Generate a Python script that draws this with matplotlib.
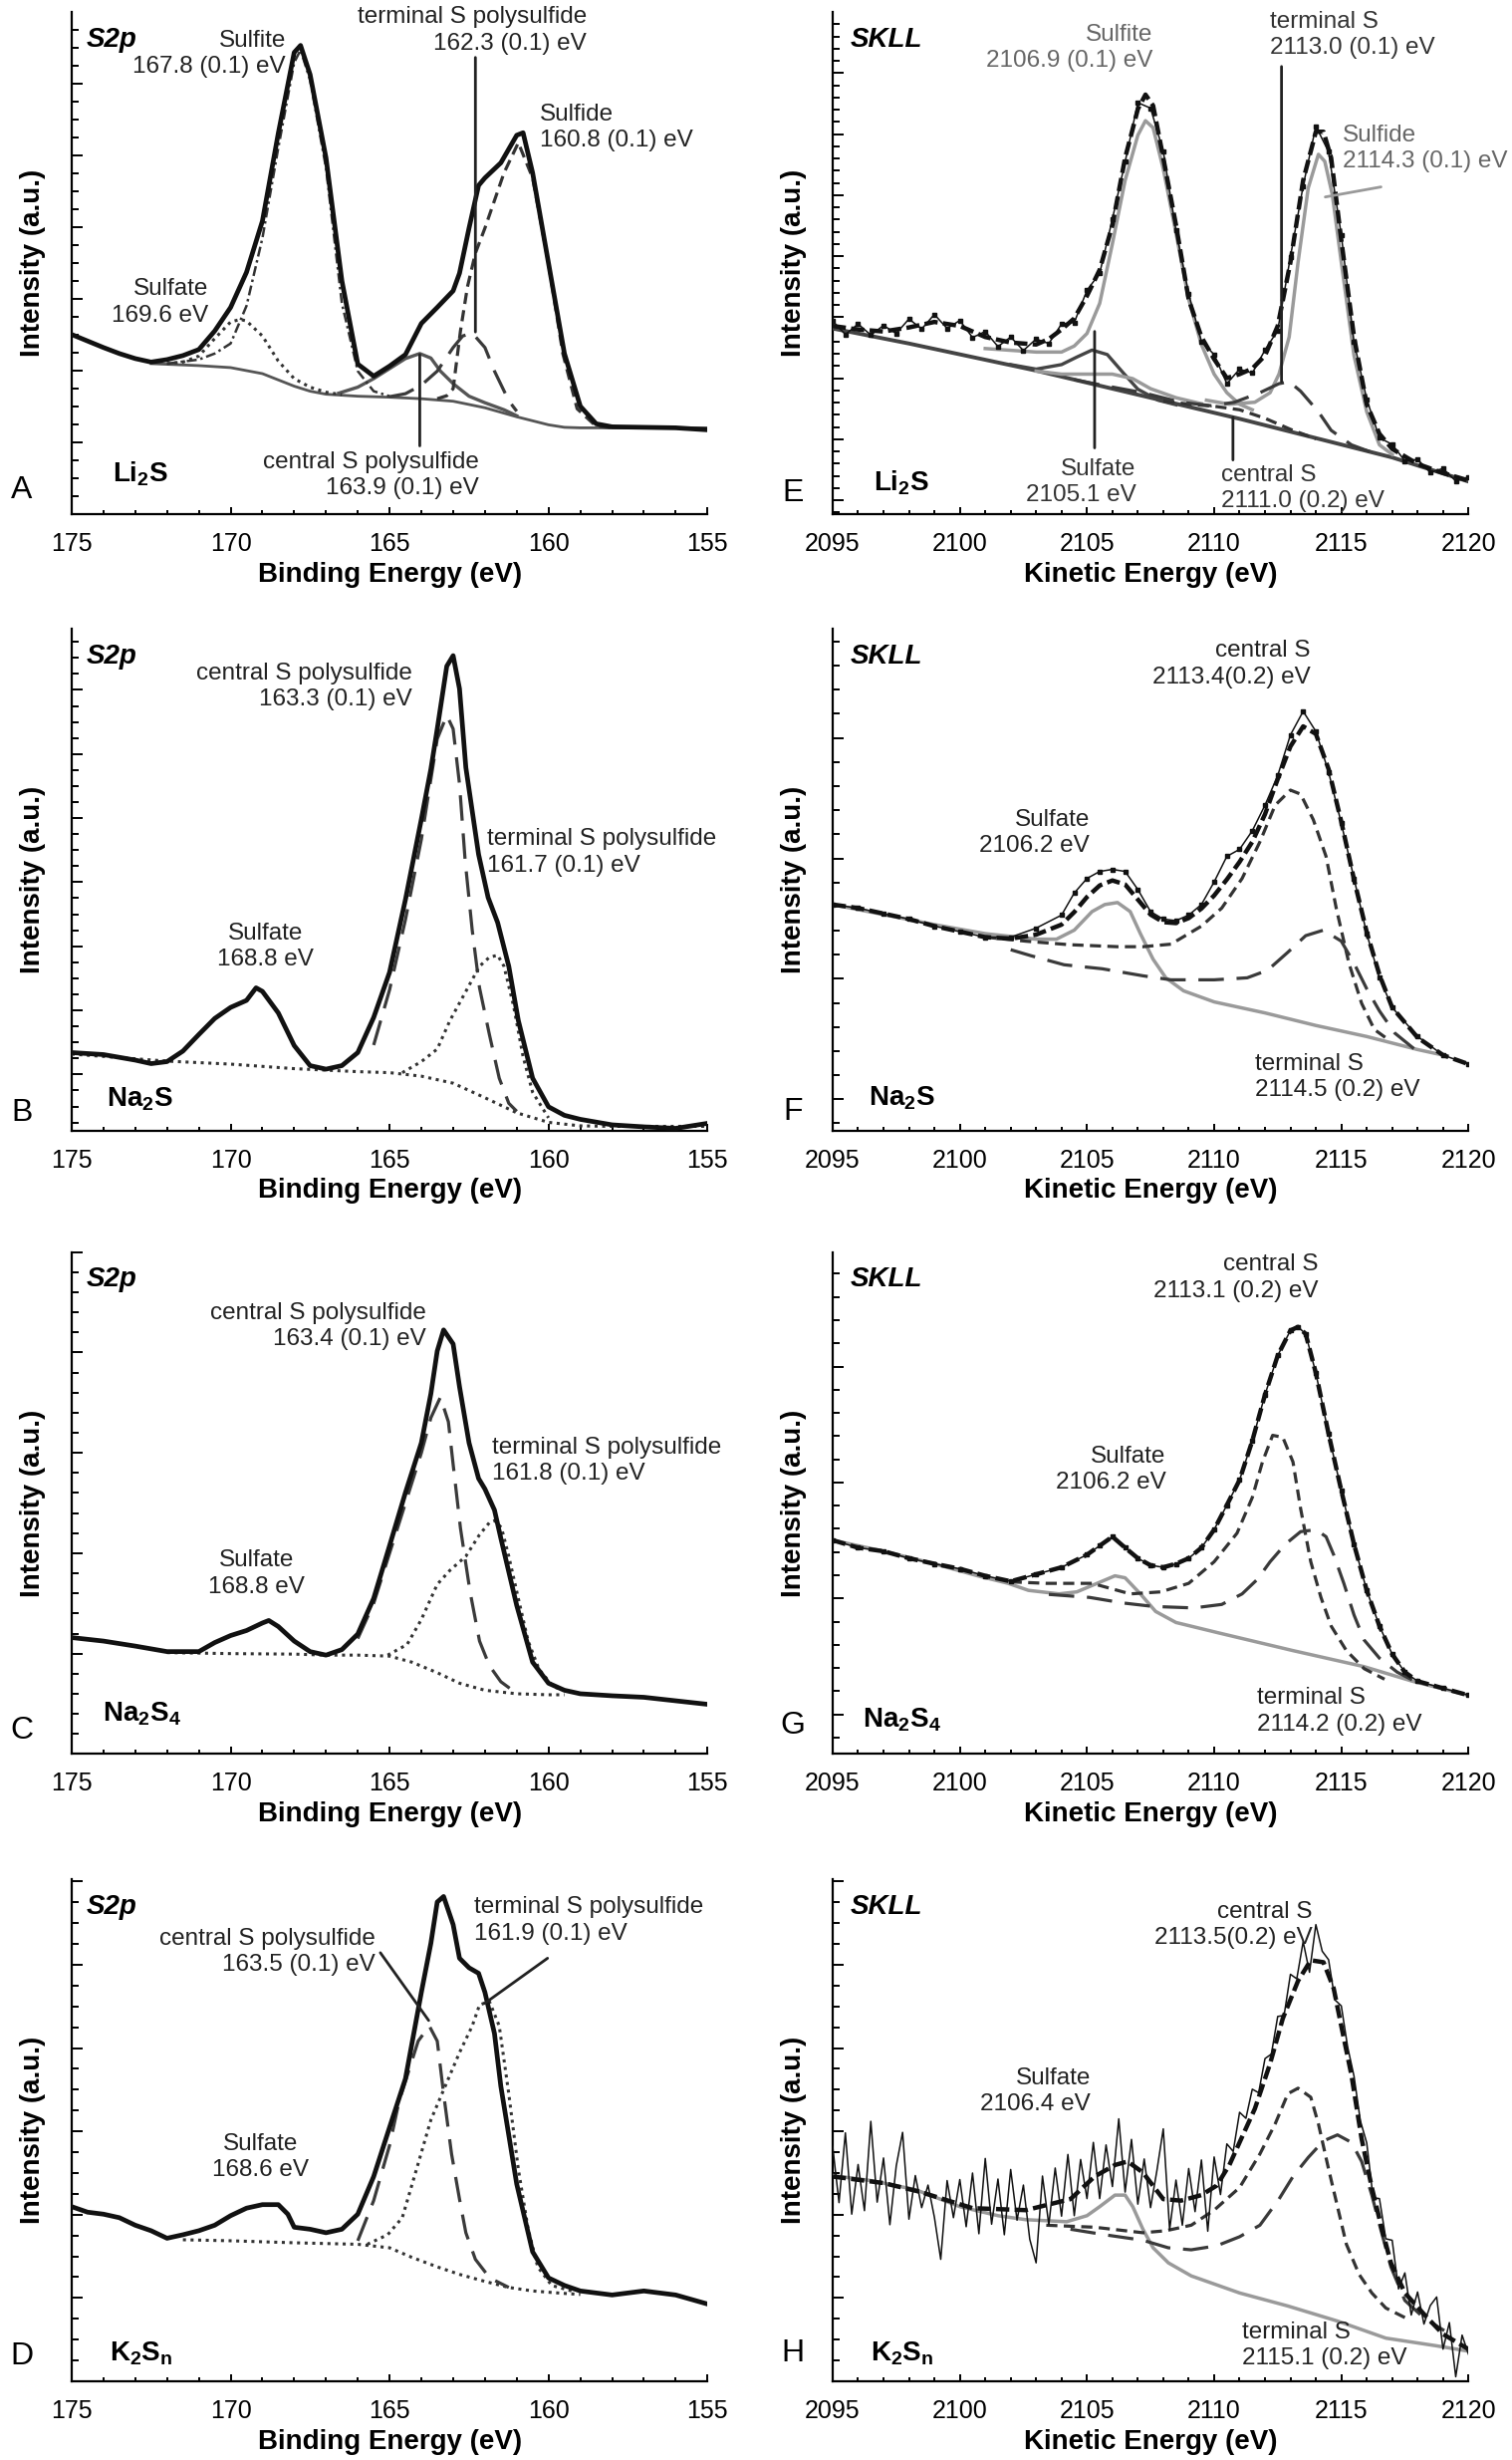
import numpy as np
import matplotlib
matplotlib.use('Agg')
import matplotlib.pyplot as plt
from matplotlib.ticker import FixedLocator, MultipleLocator

plt.rcParams['font.family'] = ['Liberation Sans', 'DejaVu Sans']
plt.rcParams['mathtext.fontset'] = 'custom'
plt.rcParams['mathtext.rm'] = 'Liberation Sans'
plt.rcParams['mathtext.bf'] = 'Liberation Sans:bold'
plt.rcParams['mathtext.it'] = 'Liberation Sans:italic'

# ---------------- A : Li2S, S2p (binding energy) ----------------
A_be = [175, 174.5, 174, 173.5, 173, 172.5, 172, 171.5, 171, 170.5, 170, 169.5, 169, 168.5, 168, 167.8,
        167.5, 167, 166.5, 166, 165.5, 165, 164.5, 164, 163.5, 163, 162.8, 162.5, 162.2, 162, 161.5, 161,
        160.8, 160.5, 160, 159.5, 159, 158.5, 158, 157, 156, 155]
A_data = [35.8, 34.5, 33.2, 32.0, 31.0, 30.3, 30.8, 31.6, 32.8, 36.5, 41.2, 48.2, 58.4, 75.9, 92.0, 93.4,
          87.6, 71.0, 46.5, 29.9, 27.5, 29.5, 31.8, 38.0, 41.2, 44.5, 48.0, 57.0, 65.5, 67.0, 70.0, 75.5,
          76.0, 68.0, 50.0, 32.0, 21.5, 18.0, 17.4, 17.3, 17.2, 16.8]
A_bg_be = [172.5, 171, 170, 169, 168, 167.5, 167, 166, 165, 164, 163, 162, 161, 160, 159.5, 159, 157, 155]
A_bg = [30.0, 29.6, 29.2, 28.0, 25.5, 24.5, 23.9, 23.5, 23.3, 23.0, 22.5, 21.2, 19.4, 17.8, 17.3, 17.2, 17.2, 17.2]
A_sulfate_be = [172, 171.5, 171, 170.5, 170, 169.7, 169.5, 169, 168.5, 168, 167.5, 167, 166.5]
A_sulfate = [30.0, 30.3, 31.5, 35.0, 38.3, 38.8, 38.5, 35.5, 30.5, 27.0, 25.3, 24.3, 23.8]
A_sulfite_be = [172, 171, 170.5, 170, 169.5, 169, 168.5, 168, 167.8, 167.5, 167, 166.5, 166, 165.5, 165]
A_sulfite = [30.0, 30.8, 32.0, 34.0, 41.5, 55.0, 73.0, 90.0, 92.5, 86.5, 69.0, 42.0, 28.5, 24.5, 23.5]
A_central_be = [166.6, 166, 165.5, 165, 164.5, 164.05, 163.7, 163.4, 163, 162.5, 162, 161.4, 161]
A_central = [24.1, 25.3, 27.0, 29.0, 31.0, 32.0, 31.1, 28.5, 26.0, 23.5, 22.2, 20.8, 19.6]
A_terminal_be = [165, 164.5, 164, 163.5, 163, 162.7, 162.4, 162, 161.7, 161.25, 161]
A_terminal = [23.4, 24.0, 25.7, 28.5, 33.2, 35.5, 36.1, 33.2, 28.5, 22.6, 20.5]
A_sulfide_be = [163.5, 163.2, 163, 162.77, 162.55, 162.3, 162, 161.4, 160.95, 160.5, 160, 159.55, 159.1, 158.5, 158]
A_sulfide = [23.0, 23.6, 25.0, 36.5, 45.3, 52.0, 57.0, 68.0, 74.0, 67.0, 50.0, 32.0, 21.0, 17.5, 17.2]

# ---------------- B : Na2S, S2p ----------------
B_be = [175, 174, 173, 172.5, 172, 171.5, 171, 170.5, 170, 169.5, 169.2, 169, 168.5, 168, 167.5, 167, 166.5,
        166, 165.5, 165, 164.5, 164, 163.7, 163.5, 163.2, 163, 162.8, 162.6, 162.2, 161.9, 161.6, 161.25,
        160.95, 160.5, 160, 159.5, 159, 158, 157, 156, 155]
B_data = [15.5, 15.1, 14.0, 13.3, 13.7, 15.8, 19.1, 22.3, 24.5, 25.9, 28.4, 27.7, 23.4, 16.9, 12.9, 12.2, 12.9,
          15.5, 22.5, 31.5, 46.0, 62.0, 72.0, 80.0, 92.5, 94.6, 88.0, 72.3, 55.0, 46.4, 41.4, 32.7,
          21.9, 10.4, 4.7, 3.0, 2.2, 1.1, 0.7, 0.4, 1.4]
B_bg_be = [175, 172, 170, 168, 166, 165, 164, 163, 162, 161, 160, 159, 158, 155]
B_bg = [15.2, 13.8, 13.2, 12.3, 11.7, 11.5, 10.8, 9.4, 6.5, 3.5, 1.6, 0.9, 0.8, 0.8]
B_central_be = [165.5, 165, 164.5, 164, 163.7, 163.5, 163.2, 163, 162.8, 162.62, 162.4, 162.17, 161.86, 161.55, 161.25, 161]
B_central = [17.0, 28.0, 42.0, 58.0, 70.0, 78.0, 82.7, 80.0, 69.0, 53.6, 39.9, 28.4, 19.1, 10.4, 5.4, 3.8]
B_terminal_be = [164.6, 164, 163.5, 163.1, 162.6, 162.17, 161.86, 161.6, 161.4, 161.1, 160.8, 160.5, 160]
B_terminal = [11.5, 13.7, 16.2, 21.9, 27.7, 32.7, 34.5, 34.9, 32.7, 24.8, 14.7, 7.6, 2.5]

# ---------------- C : Na2S4, S2p ----------------
C_be = [175, 174, 173, 172, 171, 170.5, 170, 169.5, 169, 168.8, 168.5, 168, 167.5, 167, 166.5, 166, 165.5,
        165, 164.5, 164, 163.7, 163.5, 163.3, 163, 162.8, 162.5, 162.2, 162, 161.7, 161.5, 161, 160.5, 160,
        159.5, 159, 158, 157, 156, 155]
C_data = [23.2, 22.5, 21.5, 20.4, 20.4, 22.2, 23.6, 24.6, 26.1, 26.6, 25.4, 22.5, 20.4, 19.7, 20.8, 23.9, 31.0,
          41.5, 52.1, 62.0, 71.8, 80.3, 84.5, 81.7, 73.2, 62.0, 54.9, 52.8, 48.6, 43.0, 29.6, 18.3, 14.1,
          12.7, 12.0, 11.6, 11.3, 10.6, 9.9]
C_bg_be = [172, 170, 168, 167, 166, 165, 164.3, 163.5, 162.8, 162, 161, 160, 159.5]
C_bg = [20.2, 20.0, 19.9, 19.7, 19.7, 19.5, 18.3, 16.2, 14.1, 12.7, 12.0, 11.8, 11.8]
C_central_be = [166, 165.5, 165, 164.5, 164, 163.7, 163.4, 163.15, 163, 162.77, 162.47, 162.17, 161.86, 161.5, 161.2]
C_central = [23.0, 30.0, 40.0, 50.0, 60.0, 67.0, 71.1, 66.2, 57.7, 45.0, 32.4, 22.5, 17.6, 14.4, 13.0]
C_terminal_be = [165.06, 164.45, 164, 163.5, 163.1, 162.6, 162.17, 161.86, 161.7, 161.48, 161.25, 160.95,
                 160.64, 160.3, 159.85, 159.27]
C_terminal = [19.7, 21.8, 26.8, 33.8, 36.6, 39.4, 43.7, 46.1, 46.5, 45.1, 39.4, 31.0, 22.5, 16.9, 13.4, 12.3]

# ---------------- D : K2Sn, S2p ----------------
D_be = [175, 174.5, 174, 173.5, 173, 172.5, 172, 171.5, 171, 170.5, 170, 169.5, 169, 168.5, 168.2, 168, 167.5,
        167, 166.5, 166, 165.5, 165, 164.5, 164, 163.7, 163.5, 163.3, 163, 162.8, 162.5, 162.2, 162, 161.7,
        161.5, 161, 160.5, 160, 159.5, 159, 158, 157, 156, 155]
D_data = [34.8, 33.7, 33.3, 32.6, 31.1, 30.0, 28.5, 29.2, 30.0, 31.1, 33.0, 34.5, 35.2, 35.2, 33.3, 30.7, 30.3,
          29.6, 30.3, 33.3, 40.8, 50.6, 60.3, 77.5, 87.3, 95.5, 96.6, 91.0, 84.3, 82.4, 81.3, 77.5, 69.3,
          58.8, 39.3, 25.8, 20.6, 19.1, 18.0, 17.2, 18.0, 17.2, 15.4]
D_bg_be = [171.5, 170, 168, 166, 165, 164.3, 163.5, 162.8, 162, 161.25, 160.5, 159.7, 159]
D_bg = [28.2, 28.0, 27.6, 27.3, 26.6, 24.7, 22.8, 21.3, 19.9, 18.7, 18.0, 17.6, 17.3]
D_central_be = [166, 165.5, 165, 164.7, 164.4, 164.1, 163.75, 163.5, 163.3, 163.05, 162.8, 162.6, 162.3, 161.85, 161.25]
D_central = [28.0, 36.0, 47.0, 55.8, 61.8, 67.8, 70.8, 67.8, 57.3, 45.3, 36.3, 29.6, 24.3, 20.6, 18.7]
D_terminal_be = [165.7, 165.06, 164.6, 164.15, 163.7, 163.25, 162.8, 162.4, 162.17, 161.86, 161.55, 161.25,
                 160.95, 160.64, 160.34, 159.9, 159.27]
D_terminal = [27.3, 29.2, 32.6, 42.3, 52.1, 58.8, 65.5, 70.8, 75.0, 75.7, 70.8, 57.3, 42.3, 30.3, 22.8, 19.1, 18.0]

# ---------------- E : Li2S, SKLL (kinetic energy) ----------------
E_ke = [2095, 2096, 2097, 2098, 2099, 2100, 2101, 2102, 2103, 2103.5, 2104, 2104.5, 2105, 2105.5, 2106, 2106.5,
        2107, 2107.3, 2107.6, 2108, 2108.5, 2109, 2109.5, 2110, 2110.5, 2111, 2111.5, 2112, 2112.5, 2113,
        2113.5, 2114, 2114.3, 2114.6, 2115, 2115.5, 2116, 2116.5, 2117, 2118, 2119, 2120]
E_fit = [37.5, 36.8, 36.4, 37.2, 38.3, 37.5, 35.3, 34.2, 33.8, 34.9, 36.8, 39.0, 43.5, 48.7, 57.6, 71.0,
         80.7, 83.6, 81.4, 71.0, 57.6, 42.8, 35.3, 30.9, 27.1, 27.9, 29.0, 31.6, 37.5, 50.2,
         66.5, 76.2, 76.2, 71.0, 54.6, 35.3, 21.9, 16.0, 13.0, 10.0, 8.2, 6.7]
E_data = [38.5, 35.8, 37.9, 35.7, 37.6, 36.0, 38.9, 36.9, 39.8, 37.0, 38.6, 35.2, 36.4, 33.4, 35.3, 32.6,
          34.9, 34.0, 37.9, 38.2, 44.6, 48.0, 58.8, 70.2, 82.0, 80.9, 72.3, 56.5, 43.9, 34.4, 31.8, 26.0,
          28.9, 28.1, 32.7, 36.6, 51.3, 65.4, 77.3, 72.2, 55.6, 34.3, 22.9, 15.2, 13.9, 10.6, 10.9, 8.3,
          9.1, 6.6, 7.4]
E_bg_ke = [2095, 2098, 2103, 2111, 2117, 2120]
E_bg = [37.0, 34.0, 28.6, 19.0, 11.3, 6.5]
E_sulfate_ke = [2102, 2103, 2104, 2104.6, 2105.2, 2105.8, 2106.4, 2107, 2107.8, 2108.5]
E_sulfate = [29.8, 28.9, 29.8, 31.3, 32.7, 31.8, 28.3, 24.9, 22.7, 21.8]
E_sulfite_ke = [2101, 2103, 2104, 2104.5, 2105, 2105.5, 2106, 2106.5, 2107, 2107.3, 2107.6, 2108, 2108.5,
                2109, 2109.5, 2110, 2110.5, 2111, 2111.5]
E_sulfite = [33.0, 32.3, 32.3, 33.5, 36.0, 42.0, 53.9, 66.5, 75.5, 78.4, 77.0, 68.8, 56.0, 42.8, 33.8, 27.9,
             24.2, 21.9, 20.8]
E_minor_ke = [2103, 2104, 2105, 2106, 2106.8, 2107.5, 2108.5, 2109.5]
E_minor = [28.5, 27.9, 27.9, 27.9, 27.0, 25.0, 23.2, 22.0]
E_sulfide_ke = [2109.7, 2110.6, 2111.6, 2112.2, 2112.55, 2112.95, 2113.3, 2113.7, 2114.1, 2114.35, 2114.65,
                2115, 2115.5, 2116, 2116.5, 2117]
E_sulfide = [22.7, 21.9, 22.3, 24.2, 27.9, 35.3, 50.2, 65.0, 71.7, 70.3, 63.6, 50.2, 31.6, 20.4, 13.8, 11.9]
E_terminal_ke = [2104.5, 2105.7, 2107.2, 2108.7, 2109.9, 2110.8, 2111.8, 2112.55, 2112.95, 2113.4, 2114.1,
                 2114.6, 2115.4, 2116.2]
E_terminal = [26.8, 25.6, 24.2, 22.3, 21.6, 22.3, 24.2, 26.0, 26.4, 24.5, 20.4, 16.7, 13.8, 12.3]
E_central_ke = [2108, 2109, 2110, 2111, 2112, 2113, 2114]
E_central = [22.6, 21.9, 21.5, 20.8, 19.1, 16.9, 15.0]

# ---------------- F : Na2S, SKLL ----------------
F_ke = [2095, 2096, 2097, 2098, 2099, 2100, 2101, 2102, 2103, 2104, 2104.5, 2105, 2105.5, 2106, 2106.5, 2107,
        2107.5, 2108, 2108.5, 2109, 2109.5, 2110, 2110.5, 2111, 2111.5, 2112, 2112.5, 2113, 2113.5, 2114,
        2114.5, 2115, 2115.5, 2116, 2116.5, 2117, 2118, 2119, 2120]
F_data = [45.0, 44.3, 43.2, 42.1, 40.7, 39.6, 38.5, 38.5, 40.3, 42.9, 47.3, 50.2, 51.6, 52.0, 51.6, 48.0,
          43.6, 42.1, 41.8, 42.9, 45.0, 49.5, 54.6, 56.0, 59.7, 64.8, 70.7, 78.8, 83.5, 79.5,
          71.4, 61.2, 50.2, 39.2, 30.4, 24.5, 18.7, 15.0, 13.2]
F_fit = [45.0, 44.3, 43.2, 42.1, 40.7, 39.6, 38.5, 38.2, 39.0, 41.0, 43.5, 46.5, 48.8, 49.8, 49.0, 46.0,
         43.0, 41.5, 41.3, 42.3, 44.2, 46.8, 50.0, 53.5, 57.5, 63.0, 70.0, 76.5, 80.5, 79.0,
         72.0, 61.5, 50.0, 39.5, 31.0, 24.5, 18.5, 15.0, 13.2]
F_gray_ke = [2095, 2097, 2099, 2101, 2103, 2103.8, 2104.5, 2105.2, 2105.7, 2106.2, 2106.7, 2107.1, 2107.6,
             2108.1, 2108.8, 2110, 2112, 2114, 2116, 2118, 2119]
F_gray = [45.0, 43.0, 41.0, 39.2, 38.1, 38.1, 39.9, 43.6, 45.0, 45.4, 43.6, 39.2, 34.1, 30.4, 27.8, 25.6,
          23.4, 20.9, 18.7, 16.1, 15.0]
F_central_ke = [2101, 2102.6, 2104.3, 2106.2, 2107.2, 2108.3, 2109.5, 2110.3, 2111.1, 2111.8, 2112.4, 2113,
                2113.4, 2113.9, 2114.4, 2114.8, 2115.3, 2115.8, 2116.3, 2116.9]
F_central = [38.5, 37.7, 37.0, 36.6, 36.6, 37.1, 40.7, 44.3, 50.2, 57.5, 64.8, 67.8, 67.0, 61.9, 54.6, 44.3,
             33.3, 25.3, 20.1, 17.9]
F_terminal_ke = [2102, 2102.8, 2104.1, 2105.6, 2107.2, 2108.3, 2110, 2111.3, 2112.1, 2112.9, 2113.6, 2114.3,
                 2115, 2115.5, 2116, 2116.5, 2117.1, 2117.9]
F_terminal = [36.0, 34.8, 33.0, 32.2, 30.8, 30.0, 30.0, 30.4, 31.9, 35.5, 38.8, 39.9, 37.7, 33.3, 28.2,
              23.8, 19.4, 16.1]

# ---------------- G : Na2S4, SKLL ----------------
G_ke = [2095, 2096, 2097, 2098, 2099, 2100, 2101, 2102, 2103, 2104, 2105, 2105.5, 2106, 2106.5, 2107, 2107.5,
        2108, 2108.5, 2109, 2109.5, 2110, 2110.5, 2111, 2111.5, 2112, 2112.5, 2113, 2113.3, 2113.6, 2114,
        2114.5, 2115, 2115.5, 2116, 2116.5, 2117, 2117.5, 2118, 2119, 2120]
G_data = [42.6, 41.1, 40.4, 39.0, 37.9, 36.9, 35.5, 34.4, 35.8, 37.2, 39.7, 41.5, 43.3, 41.1, 39.0, 37.6,
          37.2, 37.9, 39.0, 41.1, 44.7, 49.6, 54.6, 62.4, 71.6, 79.4, 84.4, 85.1, 83.7, 75.9,
          63.8, 52.5, 41.8, 32.6, 25.5, 19.9, 16.3, 14.5, 13.1, 11.7]
G_gray_ke = [2095, 2097, 2099, 2100.7, 2101.9, 2102.7, 2103.9, 2104.6, 2105.4, 2106.1, 2106.5, 2107.1, 2107.7,
             2108.5, 2110.2, 2113.1, 2115.9, 2117.8, 2120]
G_gray = [42.6, 40.4, 37.9, 35.5, 34.0, 32.6, 31.9, 32.3, 34.0, 35.5, 35.1, 31.9, 28.4, 26.2, 24.1, 20.6,
          17.4, 14.5, 11.7]
G_central_ke = [2102, 2103.4, 2105.2, 2106.7, 2107.9, 2109, 2110, 2110.9, 2111.5, 2111.9, 2112.3, 2112.7,
                2113.1, 2113.4, 2113.8, 2114.2, 2114.6, 2115.2, 2115.9, 2116.7]
G_central = [34.3, 34.0, 34.0, 31.9, 32.3, 34.0, 38.3, 44.0, 51.1, 58.2, 63.5, 63.1, 58.2, 48.9, 38.3, 31.2,
             25.5, 20.6, 17.0, 14.9]
G_terminal_ke = [2103.5, 2105.1, 2106.4, 2107.6, 2109.2, 2110.3, 2111.1, 2111.7, 2112.2, 2112.8, 2113.4, 2114,
                 2114.4, 2114.7, 2115.1, 2115.5, 2115.9, 2116.5, 2117.2, 2118]
G_terminal = [31.8, 31.2, 30.1, 29.4, 29.1, 29.8, 31.9, 34.8, 38.3, 41.8, 44.3, 44.7, 43.3, 39.7, 34.0, 27.7,
              22.7, 19.1, 16.3, 14.2]

# ---------------- H : K2Sn, SKLL ----------------
H_data = [46.8, 35.6, 49.5, 33.3, 43.2, 34.0, 51.8, 35.7, 44.5, 31.2,
          42.9, 49.6, 32.3, 41.0, 34.6, 39.1, 32.7, 24.3, 40.0, 32.6,
          40.2, 30.8, 41.5, 29.4, 44.4, 31.3, 40.3, 29.2, 42.2, 32.1,
          39.1, 28.3, 23.6, 40.9, 31.2, 42.5, 32.9, 45.2, 33.0, 44.2,
          36.4, 47.6, 36.4, 47.1, 38.8, 52.3, 37.7, 48.2, 35.3, 44.3,
          34.6, 42.0, 50.3, 30.2, 40.1, 31.1, 42.4, 33.8, 44.1, 29.9,
          44.7, 37.2, 47.3, 45.8, 53.6, 52.4, 58.2, 57.5, 64.3, 65.2,
          72.7, 72.9, 81.1, 80.2, 87.6, 81.5, 91.0, 85.7, 84.0, 76.0,
          74.8, 66.6, 60.8, 51.9, 47.5, 36.6, 36.4, 28.4, 28.1, 18.4,
          21.6, 13.2, 17.8, 11.4, 15.1, 16.8, 6.4, 11.7, 0.9, 9.2,
          5.4]
H_fit_ke = [2095, 2097, 2098.4, 2100.5, 2102.6, 2104.35, 2105.3, 2106.1, 2106.6, 2107.2, 2108, 2108.7, 2109.5,
            2110.1, 2110.6, 2111, 2111.6, 2112.2, 2112.7, 2113.3, 2113.8, 2114.3, 2114.7, 2115, 2115.4, 2115.8,
            2116.2, 2116.6, 2116.95, 2117.5, 2118.3, 2119, 2120]
H_fit = [40.8, 39.5, 37.8, 34.5, 34.1, 36.3, 40.8, 43.1, 43.8, 41.6, 36.3, 36.0, 37.1, 39.0, 43.1, 47.6, 54.3,
         63.3, 72.3, 79.8, 83.9, 83.5, 78.3, 70.8, 61.0, 48.3, 38.6, 30.3, 23.6, 17.6, 13.1, 9.4, 6.4]
H_gray_ke = [2095, 2096.5, 2098.25, 2100, 2101.5, 2102.6, 2104.2, 2105, 2105.5, 2106.1, 2106.5, 2106.8, 2107.2,
             2107.6, 2108.2, 2109.1, 2111, 2112.9, 2114.85, 2116.75, 2118.7, 2120]
H_gray = [41.0, 40.0, 38.2, 34.8, 33.0, 32.2, 31.8, 33.0, 34.8, 37.1, 37.1, 34.8, 30.3, 26.6, 23.6, 21.0, 17.6,
          15.0, 12.0, 8.6, 7.1, 6.0]
H_central_ke = [2103.4, 2105.3, 2107.2, 2108.1, 2109.1, 2110, 2111, 2111.8, 2112.4, 2112.9, 2113.3, 2113.8,
                2114.1, 2114.5, 2114.85, 2115.2, 2115.7, 2116.2, 2116.75, 2117.5]
H_central = [31.1, 30.7, 29.6, 30.0, 31.1, 34.1, 38.6, 45.3, 51.3, 57.3, 58.4, 56.6, 51.3, 42.3, 34.8, 27.3,
             21.3, 17.6, 14.6, 12.7]
H_terminal_ke = [2104.35, 2105.7, 2107.2, 2108.2, 2109.1, 2110.1, 2111, 2111.8, 2112.55, 2113.1, 2113.7, 2114.3,
                 2114.85, 2115.4, 2115.8, 2116.2, 2116.55, 2116.95, 2117.5, 2118.3, 2119.05]
H_terminal = [30.3, 29.2, 28.1, 26.6, 26.2, 27.0, 28.8, 31.1, 36.3, 40.8, 44.6, 47.9, 49.1, 47.6, 43.8, 37.1,
              30.3, 22.8, 16.1, 12.4, 10.1]

# ---------------- styles and layout ----------------
DATA_S2P = dict(color='#111111', lw=3.4, solid_joinstyle='round', zorder=6)
BG = dict(color='#555555', lw=2.0, zorder=3)
DOT = dict(color='#333333', lw=2.2, ls=(0, (1, 1.5)), zorder=4)
SHORT = dict(color='#333333', lw=2.3, ls=(0, (3.5, 2)), zorder=4)
LONG = dict(color='#3a3a3a', lw=2.3, ls=(0, (8, 4)), zorder=4)
DASHDOT = dict(color='#333333', lw=1.8, ls=(0, (4, 1.5, 1, 1.5)), zorder=4)
DARK = dict(color='#444444', lw=2.4, zorder=3)
LIGHT = dict(color='#9a9a9a', lw=2.5, zorder=3)
DATA_THIN = dict(color='#111111', lw=1.1, marker='s', ms=2.8, zorder=6)
FIT = dict(color='#111111', lw=3.2, ls=(0, (3, 1.2)), zorder=7)

ANN = 17.5
col_x = [0.0474, 0.5507]
col_w = 0.4205
row_b = [0.791, 0.5405, 0.287, 0.032]
row_h = 0.204

fig = plt.figure(figsize=(15.18, 24.69), dpi=100)


def make_axes(col, row, yticks, s2p):
    ax = fig.add_axes([col_x[col], row_b[row], col_w, row_h])
    if s2p:
        ax.set_xlim(175, 155)
        ax.set_xlabel('Binding Energy (eV)', fontsize=20, fontweight='bold', labelpad=4)
    else:
        ax.set_xlim(2095, 2120)
        ax.set_xlabel('Kinetic Energy (eV)', fontsize=20, fontweight='bold', labelpad=4)
    ax.set_ylim(0, 100)
    ax.spines['top'].set_visible(False)
    ax.spines['right'].set_visible(False)
    ax.spines['left'].set_linewidth(1.6)
    ax.spines['bottom'].set_linewidth(1.6)
    ax.xaxis.set_major_locator(MultipleLocator(5))
    ax.xaxis.set_minor_locator(MultipleLocator(1))
    first, step, nsub = yticks
    sub = step / nsub
    ax.yaxis.set_major_locator(FixedLocator(np.arange(first, 100.5, step)))
    ax.yaxis.set_minor_locator(FixedLocator(np.arange(first % sub, 100.5, sub)))
    ax.tick_params(axis='both', which='both', direction='in', width=1.4)
    ax.tick_params(axis='x', which='major', length=5, labelsize=18, pad=13)
    ax.tick_params(axis='x', which='minor', length=2.8)
    ax.tick_params(axis='y', which='major', length=8, labelleft=False)
    ax.tick_params(axis='y', which='minor', length=5)
    ax.set_ylabel('Intensity (a.u.)', fontsize=20, fontweight='bold')
    ax.yaxis.set_label_coords(-0.041, 0.5)
    return ax


def label_panel(ax, col, letter, ly, core, sample, sx, sy):
    lx = -0.0785 if col == 0 else -0.0626
    ax.text(lx, ly, letter, transform=ax.transAxes, fontsize=23, ha='center', va='center')
    cx = 0.023 if col == 0 else 0.027
    ax.text(cx, 0.945, core, transform=ax.transAxes, fontsize=20, fontweight='bold',
            fontstyle='italic', ha='left', va='center')
    ax.text(sx, sy, sample, transform=ax.transAxes, fontsize=20, fontweight='bold',
            ha='left', va='baseline')


def note(ax, txt, x, y, ha, color='#222222'):
    ax.text(x, y, txt, fontsize=ANN, ha=ha, va='center', multialignment=ha,
            color=color, linespacing=1.25, zorder=8)


def leader(ax, x1, y1, x2, y2, color='#222222'):
    ax.annotate('', xy=(x2, y2), xytext=(x1, y1),
                arrowprops=dict(arrowstyle='-', color=color, lw=2.0, shrinkA=0, shrinkB=0), zorder=8)


# ---- A ----
ax = make_axes(0, 0, (14.3, 14.3, 4), True)
ax.plot(A_bg_be, A_bg, **BG)
ax.plot(A_sulfate_be, A_sulfate, **DOT)
ax.plot(A_sulfite_be, A_sulfite, **DASHDOT)
ax.plot(A_central_be, A_central, **dict(BG, lw=2.4))
ax.plot(A_terminal_be, A_terminal, **LONG)
ax.plot(A_sulfide_be, A_sulfide, **SHORT)
ax.plot(A_be, A_data, **DATA_S2P)
note(ax, 'Sulfite\n167.8 (0.1) eV', 168.26, 91.8, 'right')
note(ax, 'Sulfate\n169.6 eV', 170.7, 42.2, 'right')
note(ax, 'terminal S polysulfide\n162.3 (0.1) eV', 158.8, 96.4, 'right')
note(ax, 'Sulfide\n160.8 (0.1) eV', 160.26, 77.0, 'left')
note(ax, 'central S polysulfide\n163.9 (0.1) eV', 162.2, 7.7, 'right')
leader(ax, 162.3, 91.0, 162.3, 36.3)
leader(ax, 164.05, 31.8, 164.05, 13.6)
label_panel(ax, 0, 'A', 0.048, 'S2p', r'Li$_\mathbf{2}$S', 0.064, 0.064)

# ---- B ----
ax = make_axes(0, 1, (11.15, 12.77, 4), True)
ax.plot(B_bg_be, B_bg, **DOT)
ax.plot(B_central_be, B_central, **LONG)
ax.plot(B_terminal_be, B_terminal, **DOT)
ax.plot(B_be, B_data, **DATA_S2P)
note(ax, 'central S polysulfide\n163.3 (0.1) eV', 164.3, 88.5, 'right')
note(ax, 'terminal S polysulfide\n161.7 (0.1) eV', 161.94, 55.4, 'left')
note(ax, 'Sulfate\n168.8 eV', 168.9, 36.7, 'center')
label_panel(ax, 0, 'B', 0.035, 'S2p', r'Na$_\mathbf{2}$S', 0.055, 0.048)

# ---- C ----
ax = make_axes(0, 2, (20, 20, 5), True)
ax.plot(C_bg_be, C_bg, **DOT)
ax.plot(C_central_be, C_central, **LONG)
ax.plot(C_terminal_be, C_terminal, **DOT)
ax.plot(C_be, C_data, **DATA_S2P)
note(ax, 'central S polysulfide\n163.4 (0.1) eV', 163.84, 85.2, 'right')
note(ax, 'terminal S polysulfide\n161.8 (0.1) eV', 161.78, 58.5, 'left')
note(ax, 'Sulfate\n168.8 eV', 169.18, 35.9, 'center')
label_panel(ax, 0, 'C', 0.046, 'S2p', r'Na$_\mathbf{2}$S$_\mathbf{4}$', 0.049, 0.065)

# ---- D ----
ax = make_axes(0, 3, (16.6, 16.6, 4), True)
ax.plot(D_bg_be, D_bg, **DOT)
ax.plot(D_central_be, D_central, **LONG)
ax.plot(D_terminal_be, D_terminal, **DOT)
ax.plot(D_be, D_data, **DATA_S2P)
note(ax, 'central S polysulfide\n163.5 (0.1) eV', 165.44, 85.6, 'right')
note(ax, 'terminal S polysulfide\n161.9 (0.1) eV', 162.35, 91.8, 'left')
note(ax, 'Sulfate\n168.6 eV', 169.07, 44.6, 'center')
leader(ax, 165.29, 85.4, 163.77, 71.9)
leader(ax, 160.03, 84.3, 162.01, 75.3)
label_panel(ax, 0, 'D', 0.049, 'S2p', r'K$_\mathbf{2}$S$_\mathbf{n}$', 0.059, 0.04)

# ---- E ----
ax = make_axes(1, 0, (2.75, 12.16, 5), False)
ax.plot(E_bg_ke, E_bg, **dict(DARK, lw=2.8))
ax.plot(E_sulfate_ke, E_sulfate, **DARK)
ax.plot(E_minor_ke, E_minor, **LIGHT)
ax.plot(E_sulfite_ke, E_sulfite, **LIGHT)
ax.plot(E_sulfide_ke, E_sulfide, **LIGHT)
ax.plot(E_central_ke, E_central, **SHORT)
ax.plot(E_terminal_ke, E_terminal, **LONG)
ax.plot(np.linspace(2095, 2120, len(E_data)), E_data, **DATA_THIN)
ax.plot(E_ke, E_fit, **FIT)
note(ax, 'Sulfite\n2106.9 (0.1) eV', 2107.6, 92.9, 'right', '#666666')
note(ax, 'terminal S\n2113.0 (0.1) eV', 2112.2, 95.5, 'left', '#333333')
note(ax, 'Sulfide\n2114.3 (0.1) eV', 2115.04, 72.9, 'left', '#666666')
note(ax, 'Sulfate\n2105.1 eV', 2106.93, 6.4, 'right', '#333333')
note(ax, 'central S\n2111.0 (0.2) eV', 2110.27, 5.2, 'left', '#333333')
leader(ax, 2112.65, 89.2, 2112.65, 26.4)
leader(ax, 2114.37, 63.2, 2116.56, 65.2, '#999999')
leader(ax, 2105.3, 36.4, 2105.3, 13.2)
leader(ax, 2110.74, 19.3, 2110.74, 10.8)
label_panel(ax, 1, 'E', 0.041, 'SKLL', r'Li$_\mathbf{2}$S', 0.065, 0.047)

# ---- F ----
ax = make_axes(1, 1, (6.2, 24.0, 5), False)
ax.plot(F_gray_ke, F_gray, **LIGHT)
ax.plot(F_central_ke, F_central, **SHORT)
ax.plot(F_terminal_ke, F_terminal, **LONG)
ax.plot(F_ke, F_data, **DATA_THIN)
ax.plot(F_ke, F_fit, **FIT)
note(ax, 'central S\n2113.4(0.2) eV', 2113.8, 92.9, 'right')
note(ax, 'Sulfate\n2106.2 eV', 2105.1, 59.2, 'right')
note(ax, 'terminal S\n2114.5 (0.2) eV', 2111.6, 10.6, 'left')
label_panel(ax, 1, 'F', 0.037, 'SKLL', r'Na$_\mathbf{2}$S', 0.057, 0.05)

# ---- G ----
ax = make_axes(1, 2, (7.9, 23.1, 5), False)
ax.plot(G_gray_ke, G_gray, **LIGHT)
ax.plot(G_central_ke, G_central, **SHORT)
ax.plot(G_terminal_ke, G_terminal, **LONG)
ax.plot(G_ke, G_data, **DATA_THIN)
ax.plot(G_ke, G_data, **FIT)
note(ax, 'central S\n2113.1 (0.2) eV', 2114.1, 94.9, 'right')
note(ax, 'Sulfate\n2106.2 eV', 2108.1, 56.6, 'right')
note(ax, 'terminal S\n2114.2 (0.2) eV', 2111.67, 8.5, 'left')
label_panel(ax, 1, 'G', 0.057, 'SKLL', r'Na$_\mathbf{2}$S$_\mathbf{4}$', 0.047, 0.054)

# ---- H ----
ax = make_axes(1, 3, (16.6, 16.6, 4), False)
ax.plot(H_gray_ke, H_gray, **LIGHT)
ax.plot(H_central_ke, H_central, **SHORT)
ax.plot(H_terminal_ke, H_terminal, **LONG)
ax.plot(np.linspace(2095, 2120, len(H_data)), H_data, color='#111111', lw=1.1, zorder=6)
ax.plot(H_fit_ke, H_fit, **FIT)
note(ax, 'central S\n2113.5(0.2) eV', 2113.85, 91.0, 'right')
note(ax, 'Sulfate\n2106.4 eV', 2105.15, 57.7, 'right')
note(ax, 'terminal S\n2115.1 (0.2) eV', 2111.1, 7.1, 'left')
label_panel(ax, 1, 'H', 0.056, 'SKLL', r'K$_\mathbf{2}$S$_\mathbf{n}$', 0.06, 0.04)

fig.savefig('out.png', dpi=100)
